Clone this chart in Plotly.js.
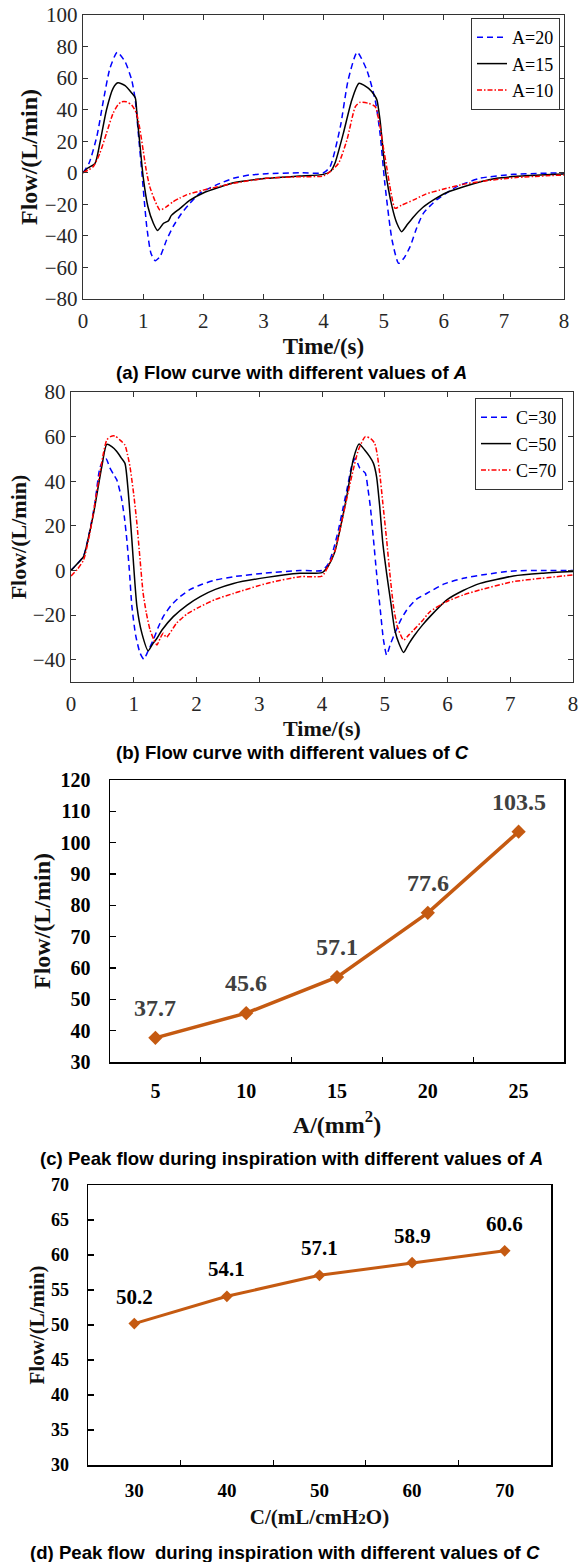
<!DOCTYPE html>
<html><head><meta charset="utf-8">
<script src="https://cdn.plot.ly/plotly-3.0.1.min.js"></script>
<style>body{margin:0;background:#fff}#chart{width:587px;height:1562px}</style>
</head><body><div id="chart"></div>
<script>
// ---------- Panel (a): flow curves for different A ----------
const tA20 = [0, 0.1, 0.23, 0.34, 0.45, 0.57, 0.7, 0.81, 0.87, 0.92, 0.98, 1.06, 1.13, 1.2, 1.28, 1.39, 1.5, 1.64, 1.78, 1.94, 2.22, 2.5, 2.77, 3.05, 3.6, 4.0,
              4.11, 4.28, 4.41, 4.56, 4.72, 4.86, 4.94, 5.02, 5.14, 5.25, 5.34, 5.44, 5.55, 5.66, 5.88, 6.22, 6.6, 7.16, 8.0];
const fA20 = [0, 6, 23, 46, 66.5, 76.4, 70.4, 58.8, 46, 25, -0.3, -34, -51, -55.7, -53.2, -42.6, -34, -25.7, -19.3, -13, -7.7, -3.5, -1.4, -0.6, 0, 0,
              3.9, 29.2, 58.8, 76.4, 65.1, 46, 25, -6.7, -42.6, -57.4, -54, -46.8, -35, -25.7, -17.2, -8.8, -3.5, -1, 0];
const tA15 = [0, 0.08, 0.2, 0.28, 0.39, 0.5, 0.58, 0.7, 0.81, 0.87, 0.9, 0.95, 1.0, 1.08, 1.17, 1.24, 1.34, 1.42, 1.47, 1.61, 1.78, 2.0, 2.28, 2.5, 3.05, 3.6, 4.0,
              4.12, 4.19, 4.33, 4.47, 4.59, 4.75, 4.85, 4.89, 4.94, 5.02, 5.14, 5.22, 5.3, 5.4, 5.5, 5.65, 5.83, 6.05, 6.33, 6.88, 7.4, 8.0];
const fA15 = [0, 3, 6, 18.7, 39.8, 53.5, 57, 55.3, 50.6, 47.4, 35.6, 16.6, -2.4, -21.5, -32, -36.6, -32, -30.5, -27, -22.7, -17.4, -12.8, -9, -6.3, -3.5, -2.1, -1,
              1, 6, 25, 46, 56.7, 53.5, 49, 46, 33.5, 3.9, -21.5, -32, -37.3, -32.5, -27.8, -22, -17.2, -12.5, -8.8, -3.5, -1.8, -0.8];
const tA10 = [0, 0.17, 0.28, 0.39, 0.5, 0.58, 0.64, 0.72, 0.81, 0.89, 0.94, 1.0, 1.05, 1.11, 1.2, 1.28, 1.39, 1.5, 1.61, 1.72, 2.0, 2.5, 3.05, 3.6, 4.0,
              4.12, 4.25, 4.39, 4.53, 4.61, 4.75, 4.86, 4.94, 5.0, 5.05, 5.12, 5.19, 5.3, 5.5, 5.7, 5.94, 6.3, 6.6, 7.2, 8.0];
const fA10 = [0, 3.9, 12.4, 25, 37.7, 43, 45, 45, 42.9, 37.7, 29, 14.4, 2, -8.8, -18, -23.6, -21.5, -18.3, -16, -14, -11, -6.7, -3.5, -2.5, -2,
              1, 6, 20.8, 41.9, 44.7, 44, 41.9, 29.2, 15, 3.9, -12, -22.5, -20.5, -17.2, -13.5, -10.9, -7.5, -5.6, -3, -1.4];

// ---------- Panel (b): flow curves for different C ----------
const tC30 = [0, 0.1, 0.2, 0.3, 0.38, 0.46, 0.52, 0.56, 0.62, 0.68, 0.73, 0.8, 0.85, 0.89, 0.93, 0.97, 1.03, 1.1, 1.16, 1.23, 1.31, 1.39, 1.47, 1.6, 1.74, 1.9, 2.06, 2.3, 2.59, 3.1, 3.65, 4.0,
              4.1, 4.18, 4.26, 4.34, 4.41, 4.47, 4.53, 4.6, 4.69, 4.73, 4.77, 4.82, 4.87, 4.93, 4.98, 5.03, 5.09, 5.16, 5.25, 5.35, 5.5, 5.72, 5.95, 6.25, 6.6, 7.05, 7.5, 8.0];
const fC30 = [0, 3, 6.5, 18, 30, 46, 49.5, 50, 46, 43, 40.6, 33, 24, 13.7, 0, -16, -29, -37, -39.8, -36, -31.2, -25.5, -20.7, -15.5, -11.7, -8.5, -6.5, -4.3, -2.8, -1.2, 0, 0,
              3, 9.2, 18, 28.6, 38, 46.5, 50.3, 46, 43.6, 37, 28.6, 14, -1.3, -18, -31.2, -37.9, -33, -28.2, -22.5, -17.7, -13, -9.5, -6, -3.5, -1.8, -0.2, 0, 0];
const tC50 = [0, 0.1, 0.2, 0.28, 0.36, 0.49, 0.57, 0.65, 0.73, 0.8, 0.86, 0.91, 0.97, 1.05, 1.13, 1.23, 1.3, 1.37, 1.45, 1.63, 1.85, 2.06, 2.3, 2.59, 3.12, 3.65, 4.0,
              4.1, 4.2, 4.3, 4.4, 4.5, 4.59, 4.68, 4.76, 4.82, 4.87, 4.92, 4.97, 5.03, 5.1, 5.16, 5.23, 5.3, 5.38, 5.46, 5.6, 5.72, 5.99, 6.25, 6.52, 7.05, 7.5, 8.0];
const fC50 = [0, 3, 6.2, 15, 25.6, 46.5, 56.5, 55.5, 53.3, 50.5, 48, 36, 13.7, -16, -28.2, -36, -33, -30.4, -26.7, -20.7, -15.5, -11.7, -8.5, -5.8, -3.1, -1.3, -1,
              2, 8, 20, 34, 50, 56.7, 54, 51, 48, 42, 28.6, 12, -1.3, -15, -26.7, -33, -36.8, -33, -29.6, -24.5, -20.7, -13.2, -9, -5.8, -2.5, -1.3, -0.5];
const tC70 = [0, 0.1, 0.2, 0.3, 0.38, 0.46, 0.52, 0.57, 0.63, 0.7, 0.78, 0.86, 0.9, 0.94, 1.0, 1.05, 1.1, 1.15, 1.2, 1.26, 1.32, 1.37, 1.42, 1.47, 1.52, 1.68, 1.85, 2.06, 2.3, 2.59, 3.12, 3.65, 4.0,
              4.1, 4.21, 4.3, 4.39, 4.48, 4.58, 4.69, 4.78, 4.84, 4.88, 4.92, 4.97, 5.03, 5.08, 5.14, 5.2, 5.3, 5.38, 5.46, 5.6, 5.72, 5.99, 6.25, 6.52, 7.05, 7.5, 8.0];
const fC70 = [-2.5, 0.5, 4.7, 16.7, 30, 43.6, 53, 58.5, 60, 60.3, 58.5, 56.2, 52, 46.5, 34, 21.1, 5, -10.3, -19, -26.7, -31, -33.4, -30.5, -28.2, -30, -23.7, -19.5, -16.2, -13, -10.3, -5.8, -2.8, -2.5,
              2, 9.2, 20, 31.6, 43, 54, 60, 59, 57, 52, 43.6, 30, 13.7, -1, -16.2, -25, -31.2, -29, -26.7, -22.5, -18.5, -13.9, -11, -8.7, -5, -3.5, -2];

// ---------- Panel (c): peak flow vs A ----------
const areaA = ['5', '10', '15', '20', '25'];
const peakA = [37.7, 45.6, 57.1, 77.6, 103.5];
// ---------- Panel (d): peak flow vs C ----------
const complC = ['30', '40', '50', '60', '70'];
const peakC = [50.2, 54.1, 57.1, 58.9, 60.6];

const legendA = ['A=20', 'A=15', 'A=10'];
const legendC = ['C=30', 'C=50', 'C=70'];
const captions = [
  '(a) Flow curve with different values of <i>A</i>',
  '(b) Flow curve with different values of <i>C</i>',
  '(c) Peak flow during inspiration with different values of <i>A</i>',
  '(d) Peak flow\u00a0 during inspiration with different values of <i>C</i>'
];

// ---------- layout helpers ----------
const W = 587, H = 1562;
const dx = (a, b) => [a / W, b / W];
const dy = (top, bottom) => [1 - bottom / H, 1 - top / H];
const px = v => v / W, py = v => 1 - v / H;

const SERIF = 'Liberation Serif, Times New Roman, serif';
const SANS = 'Liberation Sans, Arial, sans-serif';
const ORANGE = '#C55A11';
const BLUE = '#0000ff', BLACK = '#000000', RED = '#ff0000';

function flowTrace(t, f, name, color, dash, xa, ya, leg) {
  return {x: t, y: f, name: name, type: 'scatter', mode: 'lines',
    xaxis: xa, yaxis: ya, legend: leg,
    line: {color: color, width: 1.5, dash: dash, shape: 'spline', smoothing: 0.6}};
}
const DASH = '6px,4px', DASHDOT = '5px,2px,1.5px,2px';

const traces = [
  flowTrace(tA20, fA20, legendA[0], BLUE, DASH, 'x', 'y', 'legend'),
  flowTrace(tA15, fA15, legendA[1], BLACK, 'solid', 'x', 'y', 'legend'),
  flowTrace(tA10, fA10, legendA[2], RED, DASHDOT, 'x', 'y', 'legend'),
  flowTrace(tC30, fC30, legendC[0], BLUE, DASH, 'x2', 'y2', 'legend2'),
  flowTrace(tC50, fC50, legendC[1], BLACK, 'solid', 'x2', 'y2', 'legend2'),
  flowTrace(tC70, fC70, legendC[2], RED, DASHDOT, 'x2', 'y2', 'legend2'),
  {x: areaA, y: peakA, type: 'scatter', mode: 'lines+markers', xaxis: 'x3', yaxis: 'y3', showlegend: false,
   line: {color: ORANGE, width: 3.5}, marker: {symbol: 'diamond', size: 11, color: ORANGE}},
  {x: complC, y: peakC, type: 'scatter', mode: 'lines+markers', xaxis: 'x4', yaxis: 'y4', showlegend: false,
   line: {color: ORANGE, width: 3}, marker: {symbol: 'diamond', size: 9, color: ORANGE}}
];

function matAxis(extra) {
  return Object.assign({
    showgrid: false, zeroline: false, showline: true, mirror: 'ticks',
    linecolor: '#333', linewidth: 1.2, ticks: 'inside', ticklen: 5, tickcolor: '#333', tickwidth: 1,
    tickfont: {family: SERIF, size: 21, color: '#262626'}
  }, extra);
}
function xlAxis(extra) {
  return Object.assign({
    showgrid: false, zeroline: false, showline: true, mirror: true,
    linecolor: '#000', linewidth: 1.5, ticks: 'inside', ticklen: 6, tickcolor: '#000', tickwidth: 1.2,
    tickfont: {family: SERIF, size: 20, color: '#000', weight: 'bold'}
  }, extra);
}
const titleFont = s => ({family: SERIF, size: s, color: '#111', weight: 'bold'});

const annotations = [];
const capPos = [[291, 372], [292, 752], [291, 1158], [285, 1552]];
captions.forEach((c, i) => annotations.push({
  text: c, xref: 'paper', yref: 'paper', x: px(capPos[i][0]), y: py(capPos[i][1]),
  xanchor: 'center', yanchor: 'middle', showarrow: false,
  font: {family: SANS, size: 18.6, color: '#000', weight: 'bold'}
}));
// value labels above the markers (category index i on the category axes)
peakA.forEach((v, i) => annotations.push({
  text: v.toFixed(1), xref: 'x3', yref: 'y3', x: i, y: v, yshift: 30,
  showarrow: false, xanchor: 'center', yanchor: 'middle',
  font: {family: SERIF, size: 24, color: '#404040', weight: 'bold'}
}));
peakC.forEach((v, i) => annotations.push({
  text: v.toFixed(1), xref: 'x4', yref: 'y4', x: i, y: v, yshift: 27,
  showarrow: false, xanchor: 'center', yanchor: 'middle',
  font: {family: SERIF, size: 21, color: '#000', weight: 'bold'}
}));

const legendStyle = {
  font: {family: SERIF, size: 18, color: '#000'},
  bgcolor: '#fff', bordercolor: '#333', borderwidth: 1,
  xanchor: 'right', yanchor: 'top', itemwidth: 30, tracegroupgap: 0
};

const layout = {
  width: W, height: H, margin: {l: 0, r: 0, t: 0, b: 0},
  paper_bgcolor: '#fff', plot_bgcolor: '#fff', showlegend: true,
  xaxis: matAxis({domain: dx(83, 564), anchor: 'y', range: [0, 8], dtick: 1, ticklabelstandoff: 3,
    title: {text: 'Time/(s)', font: titleFont(23), standoff: 5}}),
  yaxis: matAxis({domain: dy(15, 299), anchor: 'x', range: [-80, 100], dtick: 20,
    title: {text: 'Flow/(L/min)', font: titleFont(24), standoff: 0}}),
  xaxis2: matAxis({domain: dx(71, 573), anchor: 'y2', range: [0, 8], dtick: 1, ticklabelstandoff: 3,
    title: {text: 'Time/(s)', font: titleFont(22), standoff: 5}}),
  yaxis2: matAxis({domain: dy(392, 682), anchor: 'x2', range: [-50, 80], dtick: 20,
    title: {text: 'Flow/(L/min)', font: titleFont(22), standoff: 0}}),
  xaxis3: xlAxis({domain: dx(110, 564), anchor: 'y3', type: 'category', range: [-0.5, 4.5],
    tickson: 'boundaries', ticklen: 5, ticklabelstandoff: 10,
    title: {text: 'A/(mm<sup>2</sup>)', font: titleFont(24), standoff: 15}}),
  yaxis3: xlAxis({domain: dy(780, 1062), anchor: 'x3', range: [30, 120], dtick: 10, ticklabelstandoff: 14,
    title: {text: 'Flow/(L/min)', font: titleFont(24), standoff: 3}}),
  xaxis4: xlAxis({domain: dx(88, 551), anchor: 'y4', type: 'category', range: [-0.5, 4.5],
    tickson: 'boundaries', ticklen: 5, ticklabelstandoff: 8,
    tickfont: {family: SERIF, size: 19, color: '#000', weight: 'bold'},
    title: {text: 'C/(mL/cmH<span style="font-size:15px">2</span>O)', font: titleFont(21), standoff: 9}}),
  yaxis4: xlAxis({domain: dy(1185, 1465), anchor: 'x4', range: [30, 70], dtick: 5, ticklabelstandoff: 14,
    tickfont: {family: SERIF, size: 18, color: '#000', weight: 'bold'},
    title: {text: 'Flow/(L/min)', font: titleFont(21), standoff: 0}}),
  legend: Object.assign({}, legendStyle, {x: px(560), y: py(18)}),
  legend2: Object.assign({}, legendStyle, {x: px(563), y: py(398)}),
  annotations: annotations
};

Plotly.newPlot('chart', traces, layout, {displayModeBar: false, staticPlot: true});
</script></body></html>
